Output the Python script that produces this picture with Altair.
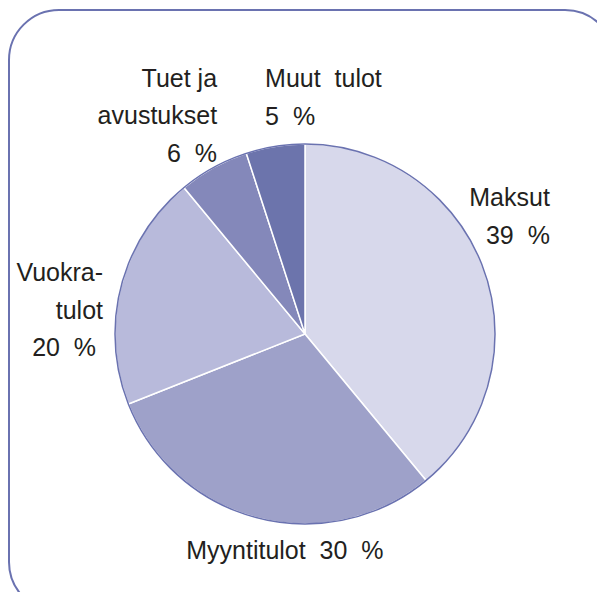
import math
import altair as alt
import pandas as pd

# ---- data ----
categories = ["Maksut", "Myyntitulot", "Vuokratulot", "Tuet ja avustukset", "Muut tulot"]
shares = [39, 30, 20, 6, 5]
labels = [
    "Maksut\n39\u00a0\u00a0%",
    "Myyntitulot\u00a0\u00a030\u00a0\u00a0%",
    "Vuokra-\ntulot\n20\u00a0\u00a0%\u00a0\u200b",
    "Tuet ja\navustukset\n6\u00a0\u00a0%",
    "Muut\u00a0\u00a0tulot\n5\u00a0\u00a0%",
]
colors = ["#d7d8eb", "#9ea1c9", "#b8badb", "#8488ba", "#6c74ac"]

# ---- layout / style ----
LABEL_RADIUS = [280, 218, 211, 270, 258]
LABEL_NUDGE = [-9.2, -9.1, 2.4, 9.8, 0.1]
LABEL_ALIGN = ["right", "center", "right", "right", "left"]
CX, CY, R = 297, 326, 190
EDGE = "#6a72b0"
FONT = "Liberation Sans"

df = pd.DataFrame({
    "cat": categories,
    "share": shares,
    "label": labels,
    "idx": list(range(len(categories))),
    "lr": LABEL_RADIUS,
    "nudge": LABEL_NUDGE,
    "align": LABEL_ALIGN,
})
one = pd.DataFrame({"a": [0]})

frame = alt.Chart(one).mark_rect(
    cornerRadius=50, fill="white", stroke=EDGE, strokeWidth=2
).encode(x=alt.value(1), x2=alt.value(607), y=alt.value(2), y2=alt.value(604))

pie = alt.Chart(df).mark_arc(outerRadius=R, stroke="white", strokeWidth=1.5).encode(
    theta=alt.Theta("share:Q", stack=True),
    order=alt.Order("idx:Q"),
    color=alt.Color("cat:N", scale=alt.Scale(domain=categories, range=colors), legend=None),
    x=alt.value(CX),
    y=alt.value(CY),
)

outline = alt.Chart(one).mark_arc(
    outerRadius=R, theta=0, theta2=math.tau, fillOpacity=0, stroke=EDGE, strokeWidth=1.5
).encode(x=alt.value(CX), y=alt.value(CY))

lab = (
    alt.Chart(df)
    .transform_joinaggregate(total="sum(share)")
    .transform_window(cum="sum(share)", sort=[alt.SortField("idx")], frame=[None, 0])
    .transform_calculate(ang="((datum.cum - datum.share/2)/datum.total*360 + datum.nudge)*PI/180")
)
text_layers = [
    lab.transform_filter(f"datum.align == '{a}'").mark_text(
        align=a, baseline="middle", lineBreak="\n", fontSize=25, lineHeight=37.5,
        font=FONT, color="#231f20"
    ).encode(
        text="label:N",
        theta=alt.Theta("ang:Q", scale=None),
        radius=alt.Radius("lr:Q", scale=None),
        x=alt.value(CX),
        y=alt.value(CY),
    )
    for a in ["left", "center", "right"]
]

chart = alt.layer(frame, pie, outline, *text_layers).resolve_scale(
    theta="independent", radius="independent", color="independent"
).properties(
    width=589, height=584, padding=0, autosize=alt.AutoSizeParams(type="none")
).configure_view(stroke=None)

chart.save("out.html", embed_options={"renderer": "svg", "actions": False})
